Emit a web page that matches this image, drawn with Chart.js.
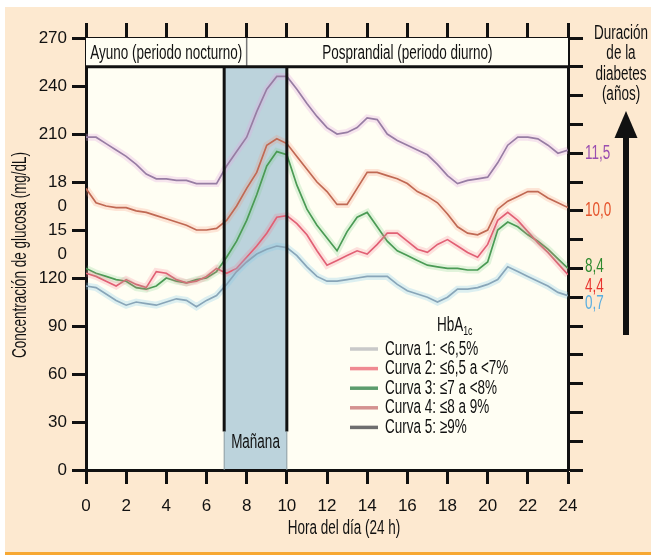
<!DOCTYPE html>
<html>
<head>
<meta charset="utf-8">
<script src="https://cdn.jsdelivr.net/npm/chart.js@4.4.1/dist/chart.umd.min.js"></script>
<style>
  html, body { margin: 0; padding: 0; background: #ffffff; }
  #wrap { width: 651px; height: 555px; position: relative; }
  canvas { display: block; }
</style>
</head>
<body>
<div id="wrap"><canvas id="c" width="651" height="555"></canvas></div>
<script>
// ---------- DATA ----------
const hours = [0,0.5,1,1.5,2,2.5,3,3.5,4,4.5,5,5.5,6,6.5,7,7.5,8,8.5,9,9.5,10,10.5,11,11.5,12,12.5,13,13.5,14,14.5,15,15.5,16,16.5,17,17.5,18,18.5,19,19.5,20,20.5,21,21.5,22,22.5,23,23.5,24];

const curve1 = [115,114,110,106,103,105,104,103,105,107,106,102,106,109,116,124,130,135,138,140,139,134,127,121,118,118,119,120,121,121,121,116,112,110,108,105,108,113,113,114,116,119,127,124,121,118,115,111,109];
const curve2 = [123,121,118,115,119,116,114,124,123,119,117,118,121,126,123,126,133,140,148,158,159,154,147,137,128,131,134,137,135,141,148,148,143,138,136,141,144,140,136,133,141,156,161,156,149,142,136,129,122];
const curve3 = [126,123,121,119,118,114,113,115,120,118,117,119,120,124,133,143,156,172,190,199,197,178,163,153,145,137,149,158,161,152,143,137,134,131,128,127,126,126,125,125,130,150,155,152,147,143,138,132,126];
const curve4 = [176,167,165,164,164,162,161,159,157,155,153,150,150,151,156,165,176,186,203,207,204,196,188,180,174,166,166,176,186,186,184,182,179,174,171,167,160,152,148,147,150,163,168,171,174,174,170,167,164];
const curve5 = [208,208,204,200,196,191,185,182,182,181,181,179,179,179,190,199,208,224,238,246,246,238,229,221,214,210,211,214,220,219,210,206,203,200,197,191,184,179,181,182,183,192,203,208,208,207,203,198,200];

const seriesNames = ['Curva 1: <6,5%','Curva 2: \u22646,5 a <7%','Curva 3: \u22647 a <8%','Curva 4: \u22648 a 9%','Curva 5: \u22659%'];

const yTickValues = [0,30,60,90,120,135,150,165,180,210,240,270];
const yTickText   = ['0','30','60','90','120','0','15','0','18','210','240','270'];

const durationLabels  = ['11,5','10,0','8,4','4,4','0,7'];
const durationAnchors = [198,162,127,115,104];   // mg/dL level where each label sits

const periodLabels = ['Ayuno (periodo nocturno)','Posprandial (periodo diurno)'];
const rightTitle = ['Duración','de la','diabetes','(años)'];
const yTitle = 'Concentración de glucosa (mg/dL)';
const xTitle = 'Hora del día (24 h)';
const fastingEnd = 8;
const morningStart = 6.88, morningEnd = 10;
const headerBottom = 252;

// ---------- STYLE ----------
const TICKFONT = "'Liberation Sans', Arial, sans-serif";
const FONT = "'Liberation Sans', Arial, sans-serif";
const TXT = 20;
const INK = '#111111';
const coreColors = ['#8b98a5','#dc5a6e','#3f8d48','#b15f4b','#786a88'];
const haloColors = ['rgba(130,200,235,0.28)','rgba(245,120,140,0.22)','rgba(120,205,130,0.22)','rgba(245,140,115,0.22)','rgba(225,170,225,0.30)'];
const legendSwatch = ['#c9c9c9','#f08a92','#5c9c6c','#d49290','#6e6e6e'];
const durationColors = ['#9b4fb0','#e5532b','#2f8a2f','#e8342f','#5aaee0'];

const curves = [curve1, curve2, curve3, curve4, curve5];
const datasets = [];
curves.forEach((c, i) => {
  const pts = hours.map((h, k) => ({x: h, y: c[k]}));
  datasets.push({label: seriesNames[i] + ' halo', data: pts, borderColor: haloColors[i], borderWidth: 7, pointRadius: 0, tension: 0, xAxisID: 'x', yAxisID: 'y'});
});
curves.forEach((c, i) => {
  const pts = hours.map((h, k) => ({x: h, y: c[k]}));
  datasets.push({label: seriesNames[i], data: pts, borderColor: coreColors[i], borderWidth: 1.7, pointRadius: 0, tension: 0, xAxisID: 'x', yAxisID: 'y'});
});

// condensed text helper (horizontal squeeze to imitate a condensed typeface)
let SX = 0.72;
function ctext(ctx, t, x, y, align, size, color) {
  ctx.save();
  ctx.font = size + 'px ' + FONT;
  ctx.textBaseline = 'middle';
  ctx.textAlign = 'left';
  ctx.fillStyle = color || INK;
  const w = ctx.measureText(t).width * SX;
  const x0 = align === 'center' ? x - w / 2 : (align === 'right' ? x - w : x);
  ctx.translate(x0, y);
  ctx.scale(SX, 1);
  ctx.fillText(t, 0, 0);
  ctx.restore();
  return w;
}

const deco = {
  id: 'deco',
  beforeDraw(chart) {
    const ctx = chart.ctx;
    const {x, y} = chart.scales;
    const a = chart.chartArea;
    ctx.save();
    ctx.font = TXT + 'px ' + FONT;
    SX = 152 / ctx.measureText(periodLabels[0]).width;
    ctx.fillStyle = '#ffffff';
    ctx.fillRect(0, 0, 651, 555);
    ctx.fillStyle = '#fde9d0';
    ctx.fillRect(5, 7, 646, 545);
    ctx.fillStyle = '#f7a833';
    ctx.fillRect(5, 552, 646, 3);
    ctx.fillStyle = '#fffef3';
    ctx.fillRect(a.left, a.top, a.right - a.left, a.bottom - a.top);
    const hb = y.getPixelForValue(headerBottom);
    ctx.fillStyle = '#bcd3dc';
    ctx.fillRect(x.getPixelForValue(morningStart), hb, x.getPixelForValue(morningEnd) - x.getPixelForValue(morningStart), a.bottom - hb);
    ctx.restore();
  },
  afterDatasetsDraw(chart) {
    const ctx = chart.ctx;
    const {x, y} = chart.scales;
    const a = chart.chartArea;
    const hb = y.getPixelForValue(headerBottom);
    ctx.save();
    // header box
    ctx.fillStyle = '#fffef3';
    ctx.fillRect(a.left, a.top, a.right - a.left, hb - a.top);
    ctx.strokeStyle = '#777';
    ctx.lineWidth = 1.5;
    const xf = x.getPixelForValue(fastingEnd);
    ctx.beginPath(); ctx.moveTo(xf, a.top); ctx.lineTo(xf, hb); ctx.stroke();
    ctx.strokeStyle = INK;
    ctx.lineWidth = 3;
    ctx.beginPath(); ctx.moveTo(a.left - 1, hb); ctx.lineTo(a.right + 1, hb); ctx.stroke();
    ctext(ctx, periodLabels[0], (a.left + xf) / 2, (a.top + hb) / 2 + 1, 'center', TXT);
    ctext(ctx, periodLabels[1], (xf + a.right) / 2, (a.top + hb) / 2 + 1, 'center', TXT);
    // morning edges
    const xm1 = x.getPixelForValue(morningStart), xm2 = x.getPixelForValue(morningEnd);
    const lineEnd = y.getPixelForValue(24);
    ctx.strokeStyle = INK;
    ctx.lineWidth = 3;
    ctx.beginPath();
    ctx.moveTo(xm1, hb); ctx.lineTo(xm1, lineEnd);
    ctx.moveTo(xm2, hb); ctx.lineTo(xm2, lineEnd);
    ctx.stroke();
    ctx.strokeStyle = '#8a9aa0';
    ctx.lineWidth = 1;
    ctx.beginPath();
    ctx.moveTo(xm1, lineEnd); ctx.lineTo(xm1, a.bottom);
    ctx.moveTo(xm2, lineEnd); ctx.lineTo(xm2, a.bottom);
    ctx.stroke();
    ctext(ctx, 'Mañana', (xm1 + xm2) / 2, y.getPixelForValue(17), 'center', TXT);
    // legend
    const lx = 350, ly0 = 349, dy = 19.6;
    const wH = ctext(ctx, 'HbA', 437, 325, 'left', TXT);
    ctext(ctx, '1c', 437 + wH, 331, 'left', 13);
    seriesNames.forEach((n, i) => {
      const yy = ly0 + i * dy;
      ctx.strokeStyle = legendSwatch[i];
      ctx.lineWidth = 3.5;
      ctx.beginPath(); ctx.moveTo(lx, yy); ctx.lineTo(lx + 28, yy); ctx.stroke();
      ctext(ctx, n, lx + 35, yy, 'left', TXT);
    });
    // duration labels
    durationLabels.forEach((t, i) => {
      ctext(ctx, t, 585, y.getPixelForValue(durationAnchors[i]), 'left', TXT, durationColors[i]);
    });
    // right title
    rightTitle.forEach((t, i) => ctext(ctx, t, 621, 33 + i * 20.5, 'center', TXT));
    // arrow
    ctx.fillStyle = INK;
    ctx.fillRect(623, 136, 6, 199);
    ctx.beginPath();
    ctx.moveTo(626, 111); ctx.lineTo(614.5, 138); ctx.lineTo(637.5, 138); ctx.closePath();
    ctx.fill();
    // x title
    ctext(ctx, xTitle, 344, 528, 'center', TXT);
    // y title
    ctx.save();
    ctx.translate(20, (a.top + a.bottom) / 2 + 1);
    ctx.rotate(-Math.PI / 2);
    ctext(ctx, yTitle, 0, 0, 'center', TXT);
    ctx.restore();
    ctx.restore();
  }
};

const tickCommon = {color: INK, font: {family: TICKFONT, size: 17}};

new Chart(document.getElementById('c'), {
  type: 'line',
  data: {datasets},
  options: {
    responsive: false,
    animation: false,
    layout: {padding: 0},
    plugins: {legend: {display: false}, tooltip: {enabled: false}},
    scales: {
      x: {
        type: 'linear', position: 'bottom', min: 0, max: 24,
        ticks: Object.assign({stepSize: 2, padding: 12, autoSkip: false, maxRotation: 0}, tickCommon),
        grid: {drawOnChartArea: false, tickLength: 14, tickWidth: 3, tickColor: INK},
        border: {color: INK, width: 3},
        afterFit(s) { s.height = 85; }
      },
      xTop: {
        type: 'linear', position: 'top', min: 0, max: 24,
        ticks: {stepSize: 2, autoSkip: false, callback: () => ''},
        grid: {drawOnChartArea: false, tickLength: 15, tickWidth: 3, tickColor: INK},
        border: {color: INK, width: 3},
        afterFit(s) { s.height = 38; }
      },
      y: {
        position: 'left', min: 0, max: 270,
        afterBuildTicks(s) { s.ticks = yTickValues.map(v => ({value: v})); },
        ticks: Object.assign({autoSkip: false, padding: 5, callback: (v) => { const k = yTickValues.indexOf(v); return k >= 0 ? yTickText[k] : ''; }}, tickCommon),
        grid: {drawOnChartArea: false, tickLength: 14, tickWidth: 3,
               tickColor: (c) => (c.tick && c.tick.value % 30 === 0) ? INK : 'rgba(0,0,0,0)'},
        border: {color: INK, width: 3},
        afterFit(s) { s.width = 86; }
      },
      yRight: {
        position: 'right', min: 0, max: 15,
        ticks: {stepSize: 1, autoSkip: false, callback: () => ''},
        grid: {drawOnChartArea: false, tickLength: 15, tickWidth: 3, tickColor: INK},
        border: {color: INK, width: 3},
        afterFit(s) { s.width = 83; }
      }
    }
  },
  plugins: [deco]
});
</script>
</body>
</html>
